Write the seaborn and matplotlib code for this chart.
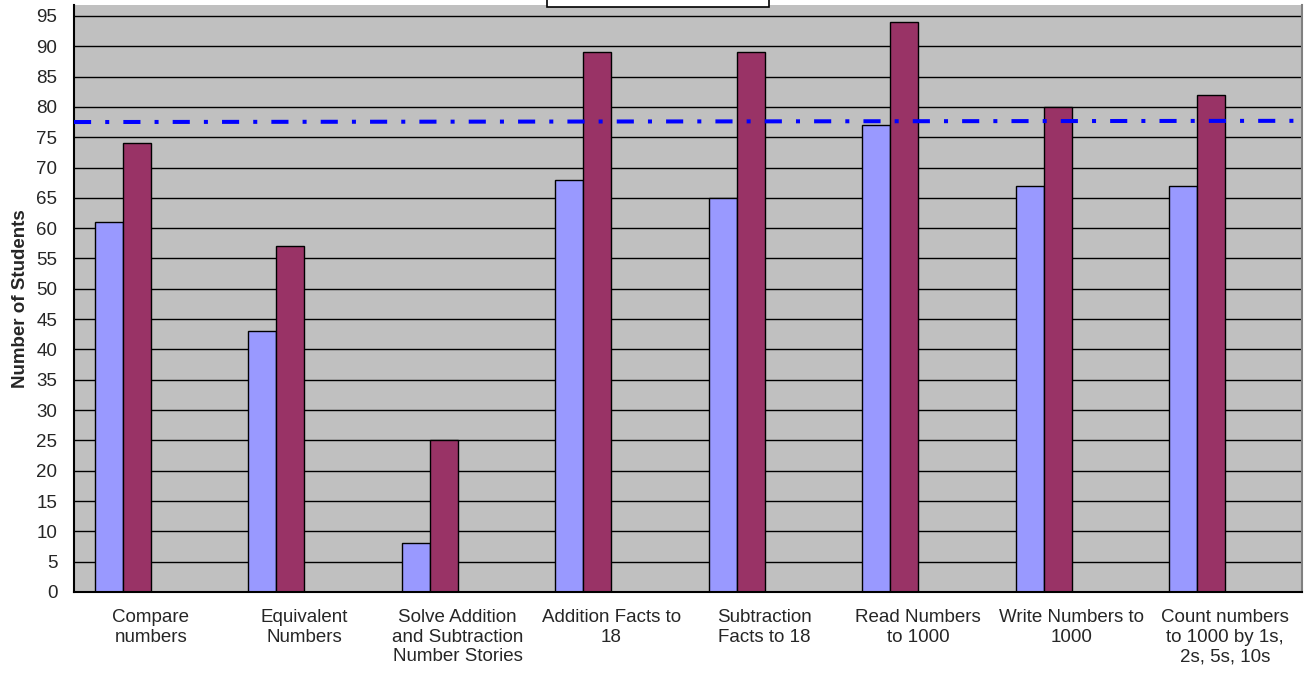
import numpy as np
import pandas as pd
import matplotlib
matplotlib.use("Agg")
import matplotlib.pyplot as plt
import seaborn as sns
from matplotlib.patches import Rectangle

# chart data
skills = [
    "Compare\nnumbers",
    "Equivalent\nNumbers",
    "Solve Addition\nand Subtraction\nNumber Stories",
    "Addition Facts to\n18",
    "Subtraction\nFacts to 18",
    "Read Numbers\nto 1000",
    "Write Numbers to\n1000",
    "Count numbers\nto 1000 by 1s,\n2s, 5s, 10s",
]
series_1 = [61, 43, 8, 68, 65, 77, 67, 67]
series_2 = [74, 57, 25, 89, 89, 94, 80, 82]
benchmark = [77.5, 77.7]  # value at left / right edge of the plot
series_names = ["Series 1", "Series 2", "Series 3", "Series 4"]
y_ticks = list(range(0, 100, 5))

sns.set_style("white")
plt.rcParams["font.family"] = ["Liberation Sans", "DejaVu Sans"]

df = pd.DataFrame({
    "skill": skills * 2,
    "students": series_1 + series_2,
    "series": [series_names[0]] * len(skills) + [series_names[1]] * len(skills),
})

palette = {
    series_names[0]: "#9999FF",
    series_names[1]: "#993366",
    series_names[2]: "#FFFFCC",
    series_names[3]: "#CCFFFF",
}

fig = plt.figure(figsize=(13.08, 6.75), dpi=100)
ax = fig.add_axes([74 / 1308, 1 - 592 / 675, (1302 - 74) / 1308, (592 - 5) / 675])
ax.set_facecolor("#C0C0C0")

sns.barplot(data=df, x="skill", y="students", hue="series", order=skills,
            hue_order=series_names, palette=palette, width=0.73,
            edgecolor="black", linewidth=1, saturation=1, errorbar=None,
            legend=False, ax=ax)

# horizontal gridlines
for v in y_ticks[1:]:
    ax.axhline(v, color="black", linewidth=1, zorder=0.5)

# benchmark line
ax.plot([-0.5, len(skills) - 0.5], benchmark, color="#0000FF", linewidth=2.9,
        linestyle=(0, (4.25, 3.5, 1.0, 3.5)), zorder=5)

ax.set_xlim(-0.5, len(skills) - 0.5)
ax.set_ylim(0, 96.8)
ax.set_yticks(y_ticks)
ax.set_yticklabels([str(t) for t in y_ticks], fontsize=13.5)

# category boundaries as major ticks, labels on minor ticks
ax.set_xticks(np.arange(-0.5, len(skills), 1))
ax.set_xticklabels([])
ax.set_xticks(np.arange(len(skills)), minor=True)
ax.set_xticklabels(skills, minor=True, fontsize=13.5, linespacing=1.22)
ax.tick_params(axis="x", which="major", direction="out", length=6, width=1, color="black")
ax.tick_params(axis="x", which="minor", length=0, pad=12)
ax.tick_params(axis="y", direction="out", length=6, width=1, color="black", pad=6)

ax.set_xlabel("")
ax.set_ylabel("Number of Students", fontsize=13.5, fontweight="bold", labelpad=5)

for side in ["left", "bottom"]:
    ax.spines[side].set_color("black")
    ax.spines[side].set_linewidth(1.5)
ax.spines["top"].set_visible(False)
ax.spines["right"].set_color("#808080")
ax.spines["right"].set_linewidth(1.5)

# legend box, mostly off the top of the image
fig.patches.append(Rectangle((547 / 1308, 1 - 6.5 / 675), 222 / 1308, 0.05,
                             transform=fig.transFigure, facecolor="white",
                             edgecolor="black", linewidth=1.2, zorder=10))

plt.savefig("out.png", dpi=100)
